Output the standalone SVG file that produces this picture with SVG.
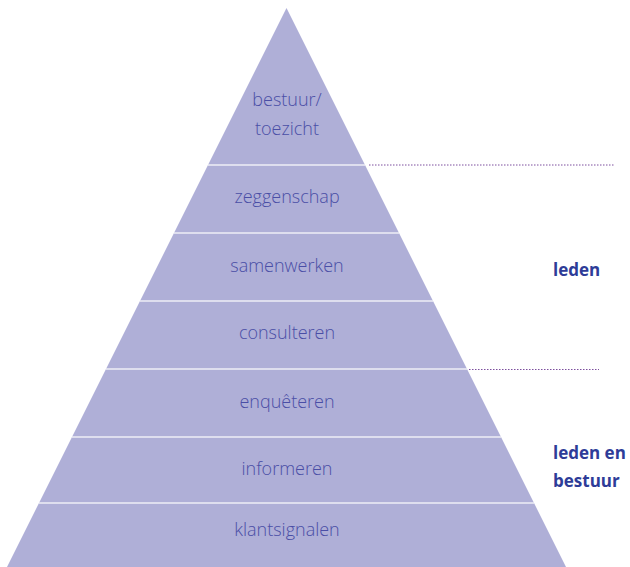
<svg xmlns="http://www.w3.org/2000/svg" width="630" height="567" viewBox="0 0 630 567">
<style>
.lvl{font-family:"Open Sans","Noto Sans","Liberation Sans",sans-serif;font-size:18px;font-weight:300;fill:#4a4ea6;text-anchor:middle}
.lab{font-family:"Open Sans","Noto Sans","Liberation Sans",sans-serif;font-size:17px;font-weight:700;fill:#2e3c98}
.sep{stroke:#eeeef6;stroke-width:1.6}
.dot{stroke:#7d4f9e;stroke-width:1;stroke-dasharray:1.5 1.5}
</style>
<rect width="630" height="567" fill="#ffffff"/>
<g id="pyramid">
<polygon points="286.5,8 566,567 7,567" fill="#afafd7"/>
</g>
<g id="connectors">
<line class="sep" x1="208" y1="165" x2="365" y2="165"/>
<line class="sep" x1="174" y1="233" x2="399" y2="233"/>
<line class="sep" x1="140" y1="301" x2="433" y2="301"/>
<line class="sep" x1="106" y1="369" x2="467" y2="369"/>
<line class="sep" x1="72" y1="437" x2="501" y2="437"/>
<line class="sep" x1="39" y1="503" x2="534" y2="503"/>
<line class="dot" x1="369" y1="165" x2="615" y2="165"/>
<line class="dot" x1="469" y1="369.5" x2="599" y2="369.5"/>
</g>
<g id="bestuur"><text class="lvl" x="287" y="106">bestuur/</text><text class="lvl" x="287" y="135">toezicht</text></g>
<g id="zeggenschap"><text class="lvl" x="287" y="203">zeggenschap</text></g>
<g id="samenwerken"><text class="lvl" x="287" y="272">samenwerken</text></g>
<g id="consulteren"><text class="lvl" x="287" y="339">consulteren</text></g>
<g id="enqueteren"><text class="lvl" x="287" y="408">enquêteren</text></g>
<g id="informeren"><text class="lvl" x="287" y="475">informeren</text></g>
<g id="klantsignalen"><text class="lvl" x="287" y="536">klantsignalen</text></g>
<g id="label-leden"><text class="lab" x="553" y="276">leden</text></g>
<g id="label-leden-bestuur"><text class="lab" x="553" y="459">leden en</text><text class="lab" x="553" y="487">bestuur</text></g>
</svg>
